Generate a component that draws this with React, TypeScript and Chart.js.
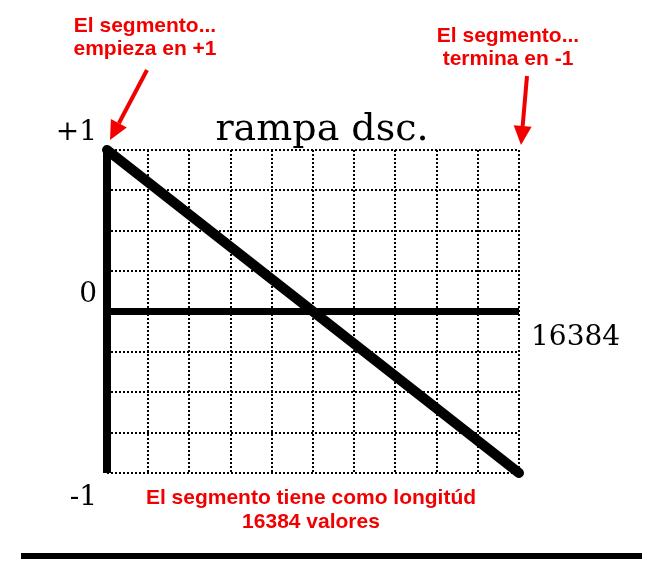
import { useEffect, useRef } from "react";
import { Chart, registerables } from "chart.js";

Chart.register(...registerables);

// ---- data ----
const segmentLength = 16384;
const xRange = [0, segmentLength];
const rampValues = [1, -1];
const zeroValues = [0, 0];
const axisXValues = [0, 0];
const axisYValues = [-1, 1];
const yLabelValues = [1, 0, -1];
const yLabelTexts = ["+1", "0", "-1"];
const xEndLabel = "16384";
const chartTitle = "rampa dsc.";
const noteStart = ["El segmento...", "empieza en +1"];
const noteEnd = ["El segmento...", "termina en -1"];
const noteLength = ["El segmento tiene como longitúd", "16384 valores"];

const RED = "#f20000";

function arrow(ctx: CanvasRenderingContext2D, x1: number, y1: number, x2: number, y2: number) {
  const ang = Math.atan2(y2 - y1, x2 - x1);
  const headLen = 19;
  const headHalf = 9;
  const bx = x2 - headLen * Math.cos(ang);
  const by = y2 - headLen * Math.sin(ang);
  ctx.save();
  ctx.strokeStyle = RED;
  ctx.fillStyle = RED;
  ctx.lineWidth = 4;
  ctx.beginPath();
  ctx.moveTo(x1, y1);
  ctx.lineTo(bx, by);
  ctx.stroke();
  ctx.beginPath();
  ctx.moveTo(x2, y2);
  ctx.lineTo(bx + headHalf * Math.sin(ang), by - headHalf * Math.cos(ang));
  ctx.lineTo(bx - headHalf * Math.sin(ang), by + headHalf * Math.cos(ang));
  ctx.closePath();
  ctx.fill();
  ctx.restore();
}

const annotate = {
  id: "annotate",
  afterDraw(chart: any) {
    const { ctx, chartArea, scales } = chart;
    const x = scales.x;
    const y = scales.y;
    ctx.save();
    ctx.fillStyle = "#000";
    ctx.textBaseline = "alphabetic";

    // title
    ctx.font = "38px 'DejaVu Serif'";
    ctx.textAlign = "center";
    ctx.fillText(chartTitle, (chartArea.left + chartArea.right) / 2 + 9, chartArea.top - 10);

    // y labels
    ctx.font = "28px 'DejaVu Serif'";
    ctx.textAlign = "right";
    const offs = [-10, -10, 32];
    yLabelValues.forEach((v, i) => {
      ctx.fillText(yLabelTexts[i], chartArea.left - 10, y.getPixelForValue(v) + offs[i]);
    });
    ctx.textAlign = "left";
    ctx.fillText(xEndLabel, x.getPixelForValue(segmentLength) + 12, y.getPixelForValue(0) + 33);

    // red notes
    ctx.fillStyle = RED;
    ctx.font = "bold 21px 'Liberation Sans'";
    ctx.textAlign = "center";
    ctx.fillText(noteStart[0], 145, 32);
    ctx.fillText(noteStart[1], 145, 55);
    ctx.fillText(noteEnd[0], 508, 42);
    ctx.fillText(noteEnd[1], 508, 65);
    ctx.fillText(noteLength[0], 311, 504);
    ctx.fillText(noteLength[1], 311, 528);

    arrow(ctx, 147, 70, x.getPixelForValue(0) + 3, y.getPixelForValue(1) - 10);
    arrow(ctx, 527, 76, x.getPixelForValue(segmentLength) + 2, y.getPixelForValue(1) - 5);

    // bottom rule
    ctx.fillStyle = "#000";
    ctx.fillRect(21, 553, 621, 6);
    ctx.restore();
  },
};

export default function App() {
  const ref = useRef<HTMLCanvasElement | null>(null);
  useEffect(() => {
    if (!ref.current) return;
    const toPts = (xs: number[], ys: number[]) => xs.map((v, i) => ({ x: v, y: ys[i] }));
    const chart = new Chart(ref.current, {
      type: "line",
      data: {
        datasets: [
          {
            data: toPts(axisXValues, axisYValues),
            borderColor: "#000",
            borderWidth: 8,
            pointRadius: 0,
            borderCapStyle: "butt",
            clip: false as any,
          },
          {
            data: toPts(xRange, zeroValues),
            borderColor: "#000",
            borderWidth: 7,
            pointRadius: 0,
            borderCapStyle: "butt",
            clip: false as any,
          },
          {
            data: toPts(xRange, rampValues),
            borderColor: "#000",
            borderWidth: 10,
            pointRadius: 0,
            borderCapStyle: "round",
            clip: false as any,
          },
        ],
      },
      options: {
        responsive: false,
        animation: false,
        layout: { padding: { left: 107, top: 150, right: 135, bottom: 90 } },
        plugins: { legend: { display: false }, tooltip: { enabled: false }, title: { display: false } },
        scales: {
          x: {
            type: "linear",
            min: 0,
            max: segmentLength,
            ticks: { display: false, count: 11 },
            grid: { color: "#000", lineWidth: 2, drawTicks: false },
            border: { display: false, dash: [2, 2] },
          },
          y: {
            type: "linear",
            min: -1,
            max: 1,
            ticks: { display: false, count: 9 },
            grid: { color: "#000", lineWidth: 2, drawTicks: false },
            border: { display: false, dash: [2, 2] },
          },
        },
      },
      plugins: [annotate],
    });
    return () => chart.destroy();
  }, []);
  return (
    <div style={{ position: "absolute", left: 0, top: 0, width: 654, height: 563, background: "#fff" }}>
      <canvas ref={ref} width={654} height={563} style={{ display: "block" }} />
    </div>
  );
}
